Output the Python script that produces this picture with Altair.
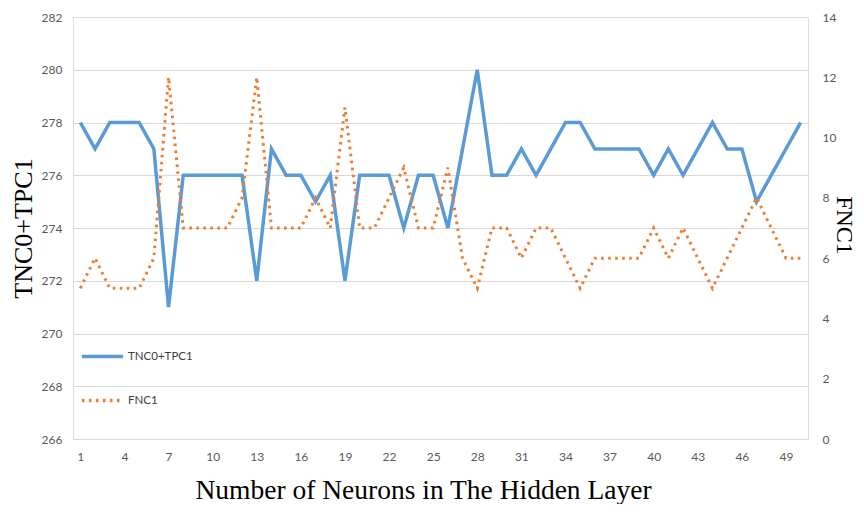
import altair as alt
import pandas as pd

neurons = list(range(1, 51))
tnc0_tpc1 = [278, 277, 278, 278, 278, 277, 271, 276, 276, 276,
             276, 276, 272, 277, 276, 276, 275, 276, 272, 276,
             276, 276, 274, 276, 276, 274, 277, 280, 276, 276,
             277, 276, 277, 278, 278, 277, 277, 277, 277, 276,
             277, 276, 277, 278, 277, 277, 275, 276, 277, 278]
fnc1 = [5, 6, 5, 5, 5, 6, 12, 7, 7, 7,
        7, 8, 12, 7, 7, 7, 8, 7, 11, 7,
        7, 8, 9, 7, 7, 9, 6, 5, 7, 7,
        6, 7, 7, 6, 5, 6, 6, 6, 6, 7,
        6, 7, 6, 5, 6, 7, 8, 7, 6, 6]
series_names = ["TNC0+TPC1", "FNC1"]
x_ticks = list(range(1, 50, 3))
left_ticks = list(range(266, 283, 2))
right_ticks = list(range(0, 15, 2))

df = pd.DataFrame({
    "n": neurons * 2,
    "value": tnc0_tpc1 + fnc1,
    "series": [series_names[0]] * 50 + [series_names[1]] * 50,
})

label_font = "Lato"
title_font = "Liberation Serif"


def make_legend():
    return alt.Legend(title=None, orient="none", legendX=7, legendY=317,
                      symbolType="stroke", symbolSize=1700, symbolStrokeWidth=3.5,
                      labelFont=label_font, labelFontSize=11.5, labelColor="#404040",
                      labelOffset=3, rowPadding=14, padding=0)


color_enc = alt.Color("series:N", scale=alt.Scale(domain=series_names, range=["#5B9BD5", "#ED7D31"]),
                      legend=make_legend())
dash_enc = alt.StrokeDash("series:N", scale=alt.Scale(domain=series_names, range=[[1, 0], [2.6, 4.4]]),
                          legend=make_legend())

x_enc = alt.X("n:Q", scale=alt.Scale(domain=[0.5, 50.5], nice=False, zero=False),
              axis=alt.Axis(values=x_ticks, grid=False, domain=False, ticks=False,
                            labelPadding=12, labelFont=label_font, labelFontSize=12, labelColor="#595959",
                            title="Number of Neurons in The Hidden Layer", titleFont=title_font,
                            titleFontSize=27.5, titleFontWeight="normal", titleColor="#000000",
                            titleX=350, titleY=51, titleAlign="center", titleBaseline="middle"))

left = alt.Chart(df).transform_filter(alt.datum.series == series_names[0]).mark_line(
    strokeWidth=3.5, interpolate="linear", strokeJoin="miter"
).encode(
    x=x_enc,
    y=alt.Y("value:Q", scale=alt.Scale(domain=[266, 282], nice=False, zero=False),
            axis=alt.Axis(values=left_ticks, orient="left", grid=True, gridColor="#D9D9D9",
                          domain=False, ticks=False, labelPadding=11, labelFont=label_font,
                          labelFontSize=12, labelColor="#595959",
                          title="TNC0+TPC1", titleFont=title_font, titleFontSize=26,
                          titleFontWeight="normal", titleColor="#000000", titleAngle=-90,
                          titleX=-50, titleY=211, titleAlign="center", titleBaseline="middle")),
    color=color_enc,
    strokeDash=dash_enc,
)

right = alt.Chart(df).transform_filter(alt.datum.series == series_names[1]).mark_line(
    strokeWidth=3, interpolate="linear"
).encode(
    x=x_enc,
    y=alt.Y("value:Q", scale=alt.Scale(domain=[0, 14], nice=False, zero=False),
            axis=alt.Axis(values=right_ticks, orient="right", grid=False,
                          domain=False, ticks=False, labelPadding=14, labelFont=label_font,
                          labelFontSize=12, labelColor="#595959",
                          title="FNC1", titleFont=title_font, titleFontSize=24,
                          titleFontWeight="normal", titleColor="#000000", titleAngle=90,
                          titleX=35, titleY=208, titleAlign="center", titleBaseline="middle")),
    color=color_enc,
    strokeDash=dash_enc,
)

chart = alt.layer(left, right).resolve_scale(y="independent").properties(
    width=735, height=422,
    autosize=alt.AutoSizeParams(type="none"),
    padding={"left": 65, "top": 9, "right": 48, "bottom": 65},
).configure_view(stroke=None).configure(background="white")

chart.save("out.html", embed_options={"renderer": "svg", "actions": False})
